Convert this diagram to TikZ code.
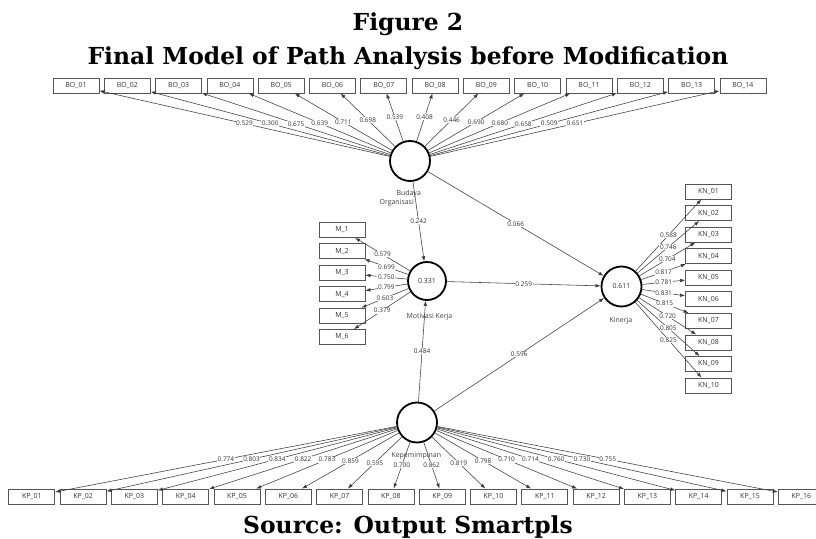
\documentclass[tikz,border=0pt]{standalone}
\usepackage{fontspec}
\setmainfont{Open Sans}
\newfontfamily\ttlfont{DejaVu Serif}
\usetikzlibrary{arrows.meta}
\definecolor{boxc}{HTML}{555555}
\definecolor{linec}{HTML}{3A3A3A}
\definecolor{txtc}{HTML}{333333}
\definecolor{namec}{HTML}{3F3F48}
\begin{document}
\begin{tikzpicture}[x=1bp,y=-1bp,
  ind/.style={draw=boxc, line width=0.8bp, minimum width=46bp, minimum height=15bp, inner sep=0pt, font=\fontsize{7}{8}\selectfont, text=txtc},
  lv/.style={circle, draw=black, line width=1.8bp, minimum size=40bp, inner sep=0pt, font=\fontsize{7}{8}\selectfont, text=txtc},
  ld/.style={draw=linec, line width=0.55bp, -{Latex[length=5bp,width=3.6bp]}},
  wl/.style={fill=white, inner sep=0.6bp, font=\fontsize{6.5}{7}\selectfont, text=txtc},
  lvname/.style={font=\fontsize{7}{8}\selectfont, text=namec},
  ttl/.style={font=\ttlfont\bfseries\fontsize{23.5}{28}\selectfont, anchor=base}
]
\useasboundingbox (0,0) rectangle (816,539);
\clip (0,0) rectangle (816,539);

% titles
\node[ttl] (t1) at (408,31) {Figure 2};
\node[ttl] (t2) at (408,65) {Final Model of Path Analysis before Modification};
\node[ttl] (t3) at (408,533) {Source: Output Smartpls};

% latent variables
\node[lv] (bo) at (410,161) {};
\node[lv, minimum size=38bp] (mk) at (427,281) {0.331};
\node[lv] (kn) at (621.5,286.5) {0.611};
\node[lv] (kp) at (417,422.5) {};

\node[lvname] (bon1) at (408.7,193.3) {Budaya};
\node[lvname] (bon2) at (396.7,202.7) {Organisasi};
\node[lvname] (mkn) at (429.5,316.7) {Motivasi Kerja};
\node[lvname] (knn) at (621,321) {Kinerja};
\node[lvname] (kpn) at (416.3,455.7) {Kepemimpinan};

% indicator boxes
\foreach \i [count=\k from 0] in {01,02,03,04,05,06,07,08,09,10,11,12,13,14}
  \node[ind] (bo\i) at ({76+51.3*\k},85.5) {BO\_\i};
\foreach \i [count=\k from 0] in {1,2,3,4,5,6}
  \node[ind] (m\i) at (342,{230+21.4*\k}) {M\_\i};
\foreach \i [count=\k from 0] in {01,02,03,04,05,06,07,08,09,10}
  \node[ind] (kn\i) at (708.5,{191.5+21.56*\k}) {KN\_\i};
\foreach \i [count=\k from 0] in {01,02,03,04,05,06,07,08,09,10,11,12,13,14,15,16}
  \node[ind] (kp\i) at ({31.8+51.3*\k},496.5) {KP\_\i};

% connectors
\foreach \i in {01,02,03,04,05,06,07,08,09,10,11,12,13,14}
  \draw[ld] (bo) -- (bo\i);
\foreach \i in {1,2,3,4,5,6}
  \draw[ld] (mk) -- (m\i);
\foreach \i in {01,02,03,04,05,06,07,08,09,10}
  \draw[ld] (kn) -- (kn\i);
\foreach \i in {01,02,03,04,05,06,07,08,09,10,11,12,13,14,15,16}
  \draw[ld] (kp) -- (kp\i);
\draw[ld] (bo) -- (mk);
\draw[ld] (bo) -- (kn);
\draw[ld] (mk) -- (kn);
\draw[ld] (kp) -- (mk);
\draw[ld] (kp) -- (kn);

% labels
\foreach \i/\v in {01/0.529,02/0.300,03/0.675,04/0.639,05/0.711,06/0.698,07/0.539,08/0.408,09/0.446,10/0.690,11/0.680,12/0.658,13/0.509,14/0.651}
  \path (bo) -- node[wl]{\v} (bo\i);
\foreach \i/\v in {1/0.579,2/0.699,3/0.750,4/0.799,5/0.603,6/0.379}
  \path (mk) -- node[wl]{\v} (m\i);
\foreach \i/\v in {01/0.588,02/0.746,03/0.704,04/0.817,05/0.781,06/0.831,07/0.815,08/0.720,09/0.805,10/0.825}
  \path (kn) -- node[wl]{\v} (kn\i);
\foreach \i/\v in {01/0.774,02/0.803,03/0.834,04/0.822,05/0.783,06/0.859,07/0.595,08/0.700,09/0.862,10/0.819,11/0.798,12/0.710,13/0.714,14/0.760,15/0.730,16/0.755}
  \path (kp) -- node[wl]{\v} (kp\i);
\path (bo) -- node[wl]{0.242} (mk);
\path (bo) -- node[wl]{0.066} (kn);
\path (mk) -- node[wl]{0.259} (kn);
\path (kp) -- node[wl]{0.484} (mk);
\path (kp) -- node[wl]{0.596} (kn);
\end{tikzpicture}
\end{document}
